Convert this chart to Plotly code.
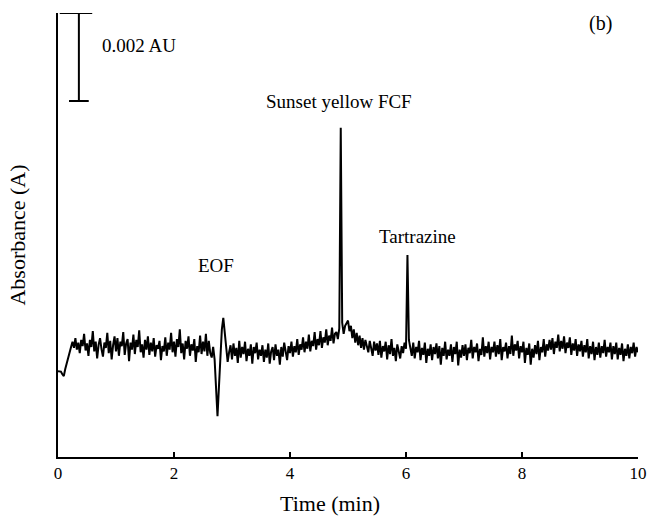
import numpy as np
import plotly.graph_objects as go

# Sample times (min): 0 to 10 min, every 0.025 min
time_min = np.linspace(0, 10, 401)

# Absorbance (mAU)
absorbance_mau = [
    # 0.0 - 0.475
    1.95, 1.95, 1.94, 1.88, 1.84, 2.00, 2.14, 2.26, 2.35, 2.50, 2.62, 2.48, 2.70, 2.44, 2.60, 2.36, 2.66, 2.52, 2.80, 2.42,
    # 0.5 - 0.975
    2.58, 2.30, 2.66, 2.50, 2.86, 2.40, 2.62, 2.24, 2.55, 2.70, 2.45, 2.28, 2.60, 2.48, 2.82, 2.36, 2.64, 2.22, 2.54, 2.74,
    # 1.0 - 1.475
    2.40, 2.70, 2.30, 2.62, 2.52, 2.84, 2.32, 2.58, 2.68, 2.18, 2.60, 2.44, 2.78, 2.34, 2.66, 2.50, 2.88, 2.38, 2.56, 2.26,
    # 1.5 - 1.975
    2.66, 2.44, 2.74, 2.32, 2.60, 2.40, 2.70, 2.28, 2.54, 2.46, 2.64, 2.20, 2.52, 2.40, 2.72, 2.30, 2.60, 2.44, 2.82, 2.38,
    # 2.0 - 2.475
    2.62, 2.28, 2.68, 2.50, 2.90, 2.36, 2.58, 2.22, 2.64, 2.46, 2.74, 2.30, 2.56, 2.42, 2.68, 2.16, 2.52, 2.38, 2.76, 2.34,
    # 2.5 - 2.975 (EOF)
    2.62, 2.40, 2.80, 2.30, 2.64, 2.36, 2.26, 2.50, 2.22, 1.70, 0.93, 1.60, 2.35, 2.90, 3.16, 2.85, 2.40, 2.16, 2.38, 2.54,
    # 3.0 - 3.475
    2.22, 2.58, 2.30, 2.48, 2.14, 2.64, 2.26, 2.50, 2.34, 2.62, 2.18, 2.46, 2.30, 2.56, 2.12, 2.50, 2.36, 2.60, 2.22, 2.44,
    # 3.5 - 3.975
    2.30, 2.54, 2.16, 2.44, 2.26, 2.58, 2.12, 2.40, 2.50, 2.20, 2.56, 2.30, 2.44, 2.10, 2.50, 2.28, 2.60, 2.34, 2.20, 2.52,
    # 4.0 - 4.475
    2.36, 2.62, 2.28, 2.52, 2.38, 2.68, 2.32, 2.56, 2.44, 2.72, 2.38, 2.62, 2.46, 2.78, 2.40, 2.64, 2.52, 2.84, 2.44, 2.68,
    # 4.5 - 4.975 (Sunset yellow FCF)
    2.54, 2.86, 2.48, 2.72, 2.60, 2.90, 2.54, 2.76, 2.64, 2.94, 2.58, 2.80, 2.84, 2.68, 2.92, 7.48, 3.05, 2.80, 2.98, 3.04,
    # 5.0 - 5.475
    3.10, 2.86, 2.98, 2.70, 2.90, 2.60, 2.82, 2.54, 2.76, 2.48, 2.70, 2.44, 2.66, 2.52, 2.38, 2.64, 2.44, 2.30, 2.62, 2.42,
    # 5.5 - 5.975
    2.58, 2.32, 2.64, 2.26, 2.52, 2.40, 2.62, 2.22, 2.54, 2.34, 2.68, 2.30, 2.48, 2.18, 2.56, 2.38, 2.24, 2.52, 2.36, 2.60,
    # 6.0 - 6.475 (Tartrazine)
    2.46, 4.59, 2.66, 2.48, 2.30, 2.60, 2.24, 2.50, 2.38, 2.64, 2.20, 2.48, 2.32, 2.60, 2.14, 2.46, 2.30, 2.56, 2.20, 2.50,
    # 6.5 - 6.975
    2.34, 2.58, 2.24, 2.52, 2.10, 2.48, 2.30, 2.62, 2.22, 2.44, 2.30, 2.56, 2.16, 2.50, 2.34, 2.62, 2.08, 2.44, 2.26, 2.54,
    # 7.0 - 7.475
    2.30, 2.56, 2.20, 2.48, 2.36, 2.66, 2.24, 2.50, 2.38, 2.58, 2.18, 2.46, 2.32, 2.72, 2.28, 2.52, 2.36, 2.62, 2.22, 2.50,
    # 7.5 - 7.975
    2.38, 2.62, 2.28, 2.54, 2.34, 2.68, 2.20, 2.50, 2.40, 2.60, 2.24, 2.52, 2.34, 2.76, 2.30, 2.56, 2.42, 2.64, 2.24, 2.52,
    # 8.0 - 8.475
    2.38, 2.62, 2.14, 2.48, 2.32, 2.58, 2.10, 2.46, 2.26, 2.54, 2.34, 2.64, 2.20, 2.50, 2.38, 2.68, 2.28, 2.56, 2.42, 2.66,
    # 8.5 - 8.975
    2.44, 2.70, 2.34, 2.62, 2.48, 2.78, 2.40, 2.64, 2.46, 2.74, 2.36, 2.60, 2.48, 2.72, 2.32, 2.58, 2.42, 2.68, 2.30, 2.56,
    # 9.0 - 9.475
    2.40, 2.64, 2.28, 2.54, 2.38, 2.68, 2.24, 2.52, 2.34, 2.62, 2.20, 2.50, 2.32, 2.60, 2.26, 2.52, 2.36, 2.66, 2.28, 2.50,
    # 9.5 - 10.0
    2.38, 2.60, 2.22, 2.52, 2.34, 2.60, 2.22, 2.48, 2.32, 2.58, 2.18, 2.46, 2.30, 2.56, 2.24, 2.50, 2.36, 2.60, 2.28, 2.50, 2.38,
]

x_ticks = [0, 2, 4, 6, 8, 10]

peak_labels = ["EOF", "Sunset yellow FCF", "Tartrazine"]
peak_label_x = [2.72, 4.85, 6.2]
peak_label_y = [4.36, 8.07, 5.02]

# Scale bar (mAU)
SCALE_BAR_TOP = 10.09
SCALE_BAR_SPAN = 2.0
SCALE_BAR_X = 0.36

FONT = "Liberation Serif, Times New Roman, serif"

fig = go.Figure()
fig.add_trace(go.Scatter(x=time_min, y=absorbance_mau, mode="lines",
                         line=dict(color="black", width=2), showlegend=False))

for lbl, lx, ly in zip(peak_labels, peak_label_x, peak_label_y):
    fig.add_annotation(x=lx, y=ly, text=lbl, showarrow=False,
                       font=dict(family=FONT, size=19, color="black"),
                       xanchor="center", yanchor="middle")

# scale bar
bar_bot = SCALE_BAR_TOP - SCALE_BAR_SPAN
fig.add_shape(type="line", x0=SCALE_BAR_X, x1=SCALE_BAR_X, y0=bar_bot, y1=SCALE_BAR_TOP,
              line=dict(color="black", width=2))
fig.add_shape(type="line", x0=0.03, x1=0.59, y0=SCALE_BAR_TOP, y1=SCALE_BAR_TOP,
              line=dict(color="black", width=2))
fig.add_shape(type="line", x0=0.19, x1=0.53, y0=bar_bot, y1=bar_bot,
              line=dict(color="black", width=2))
fig.add_annotation(x=0.72, y=SCALE_BAR_TOP - 0.73, text="0.002 AU", showarrow=False,
                   font=dict(family=FONT, size=19, color="black"),
                   xanchor="left", yanchor="middle")
fig.add_annotation(x=9.36, y=9.85, text="(b)", showarrow=False,
                   font=dict(family=FONT, size=20, color="black"),
                   xanchor="center", yanchor="middle")

# x-axis title (slightly left of centre, as in the original)
fig.add_annotation(xref="paper", yref="paper", x=0.469, y=-0.104, text="Time (min)",
                   showarrow=False, font=dict(family=FONT, size=22, color="black"),
                   xanchor="center", yanchor="middle")

fig.update_layout(
    width=648, height=520,
    margin=dict(l=58, r=10, t=13, b=63),
    paper_bgcolor="white", plot_bgcolor="white",
    font=dict(family=FONT, color="black"),
)
fig.update_xaxes(range=[0, 10], tickvals=x_ticks, ticktext=[str(v) for v in x_ticks],
                 ticks="inside", ticklen=5, tickwidth=1.5, tickcolor="black",
                 showline=True, linecolor="black", linewidth=2,
                 showgrid=False, zeroline=False, automargin=False,
                 tickfont=dict(family=FONT, size=17))
fig.update_yaxes(range=[0, 10.09], showticklabels=False, ticks="",
                 showline=True, linecolor="black", linewidth=2,
                 showgrid=False, zeroline=False, automargin=False,
                 title=dict(text="Absorbance (A)", font=dict(family=FONT, size=22), standoff=24))

fig.write_html("out.html")
